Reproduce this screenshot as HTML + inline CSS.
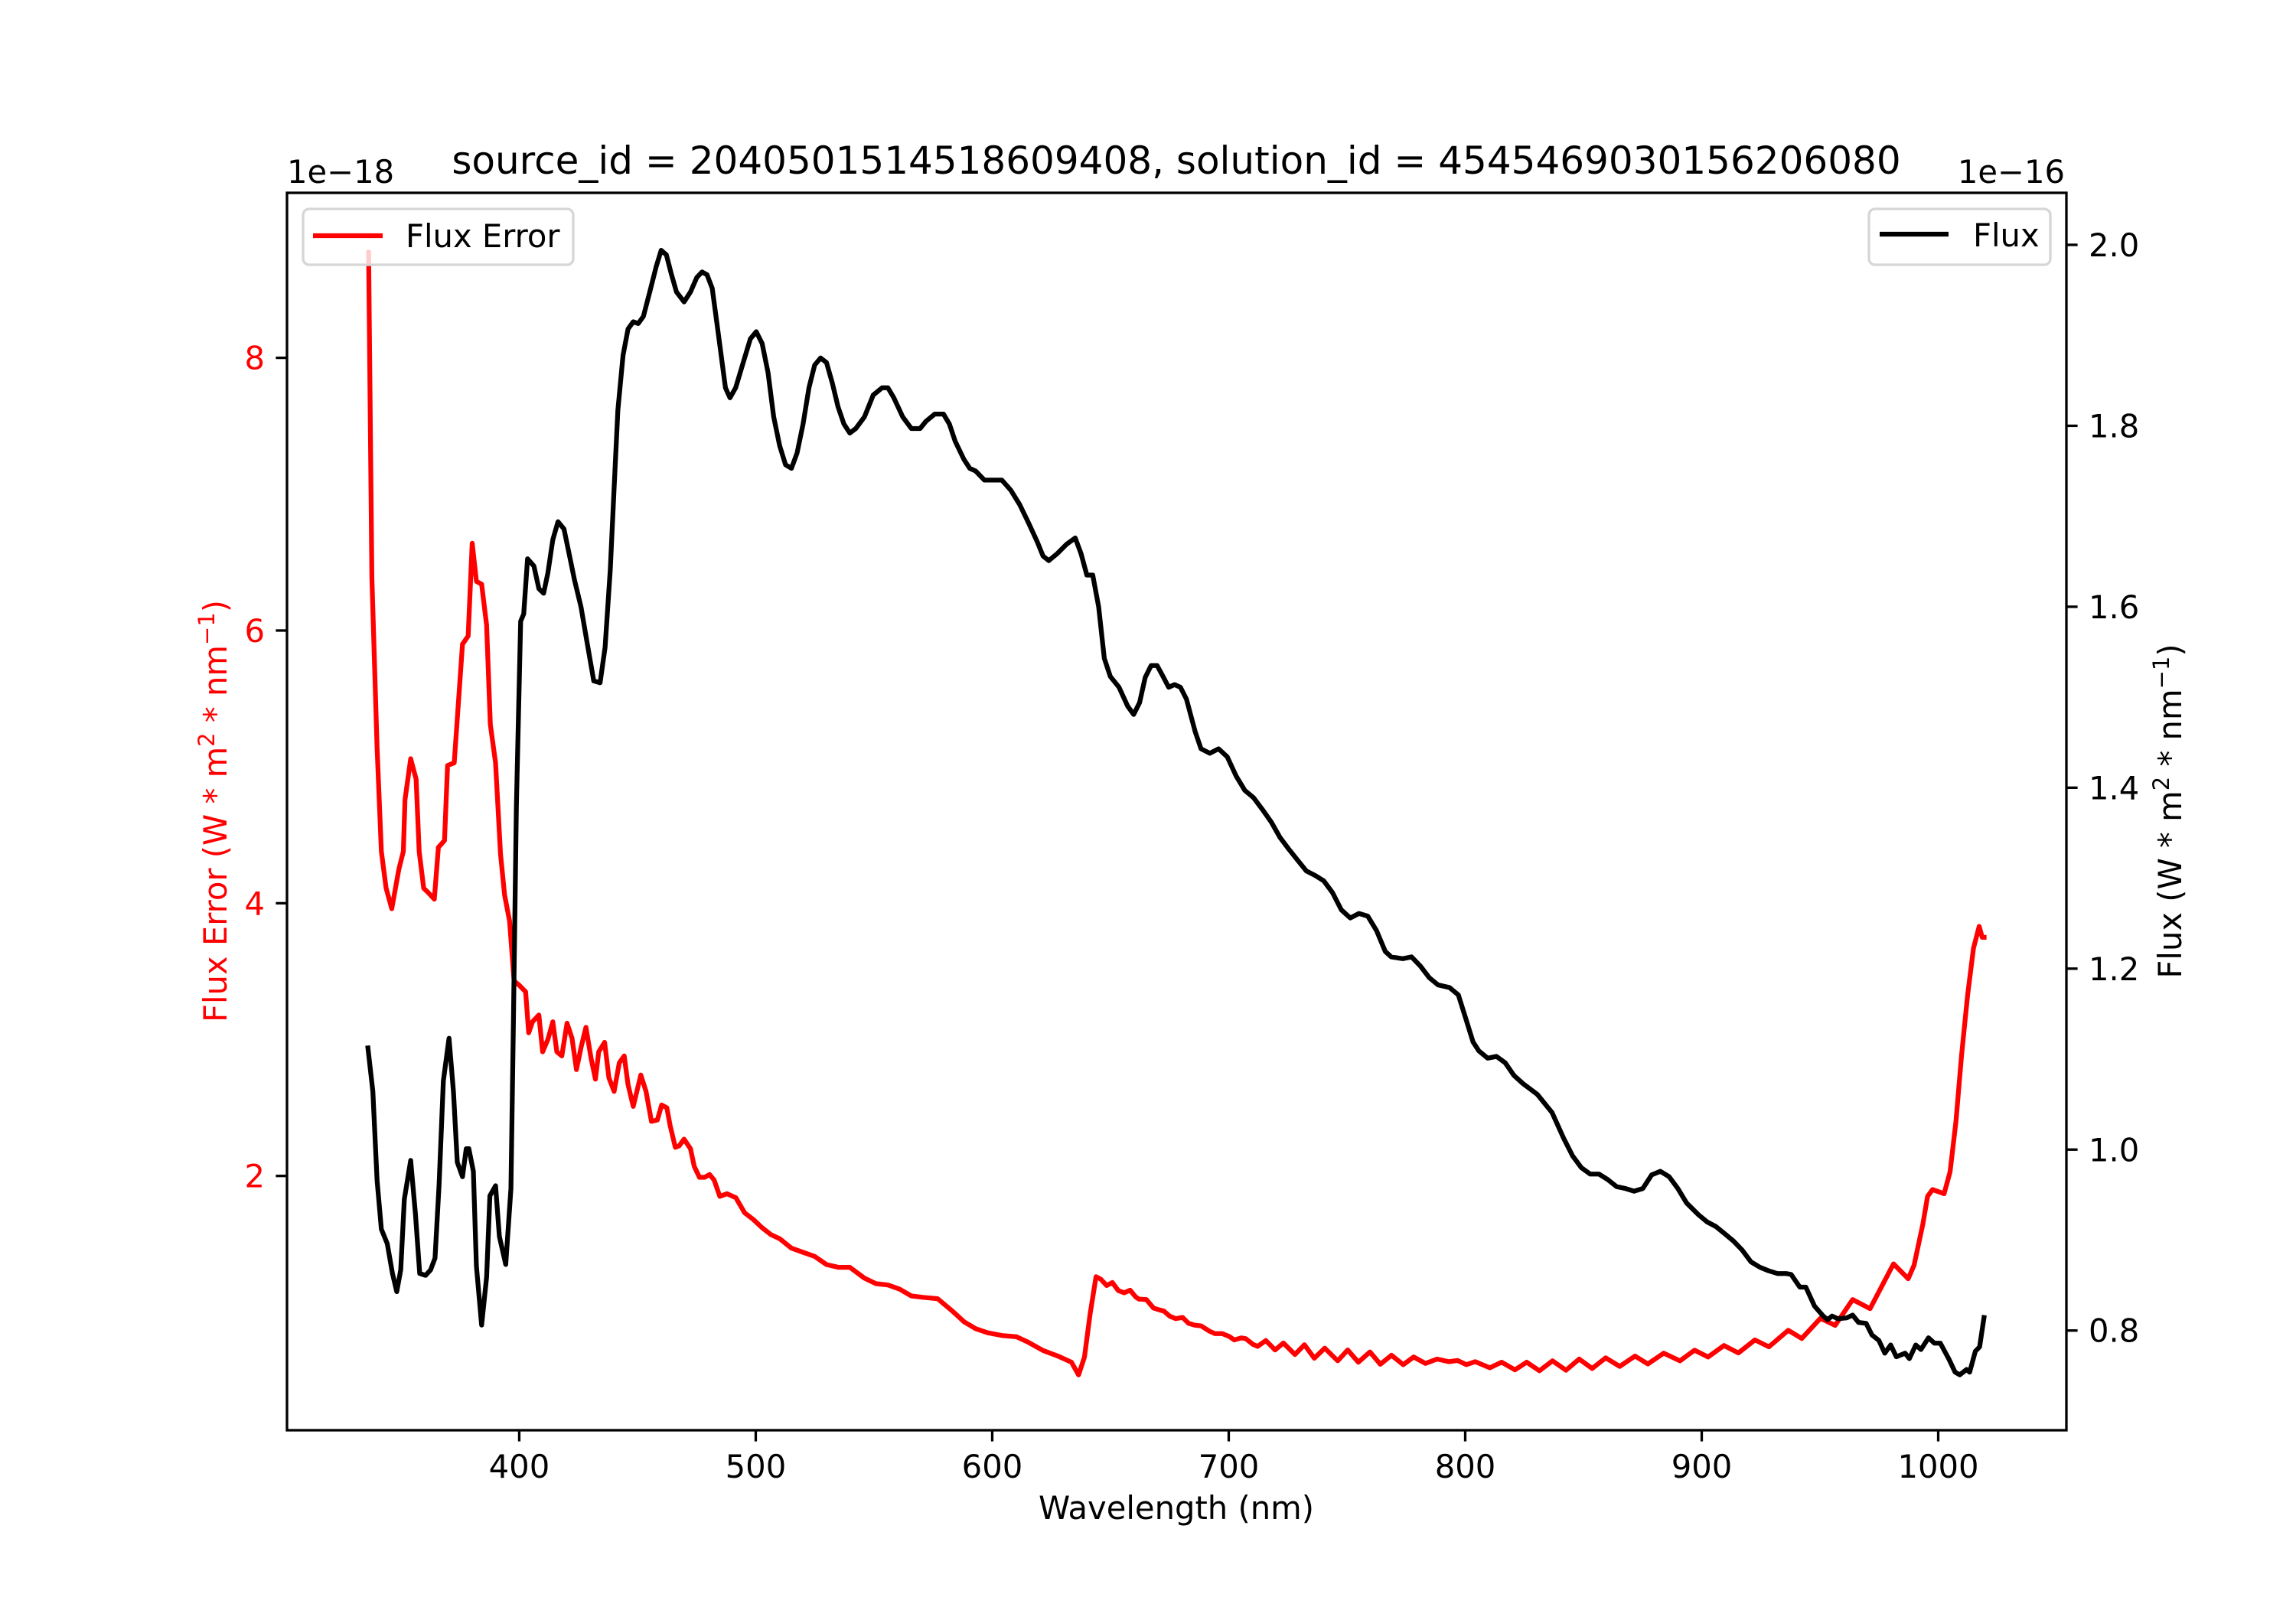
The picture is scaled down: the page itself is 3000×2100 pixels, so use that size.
<!DOCTYPE html>
<html><head><meta charset="utf-8"><style>
html,body{margin:0;padding:0;background:#fff;}
svg{display:block;font-family:"DejaVu Sans","Liberation Sans",sans-serif;}
</style></head><body>
<svg id="chart" width="3000" height="2100" viewBox="0 0 3000 2100" xmlns="http://www.w3.org/2000/svg">
<rect x="0" y="0" width="3000" height="2100" fill="#fff"/>
<g id="plot"></g>
<g id="axes"></g>
<text x="1537" y="227" font-size="50" text-anchor="middle">source_id = 2040501514518609408, solution_id = 4545469030156206080</text>
<text x="375" y="239" font-size="41.7">1e−18</text>
<text x="2698" y="239" font-size="41.7" text-anchor="end">1e−16</text>
<text x="1537" y="1985" font-size="41.7" text-anchor="middle">Wavelength (nm)</text>
<text transform="translate(296,1060) rotate(-90)" font-size="41.7" fill="#ff0000" text-anchor="middle">Flux Error (W * m<tspan font-size="29" dy="-16">2</tspan><tspan dy="16"> * nm</tspan><tspan font-size="29" dy="-16">−1</tspan><tspan dy="16">)</tspan></text>
<text transform="translate(2850,1060) rotate(-90)" font-size="41.7" fill="#000" text-anchor="middle">Flux (W * m<tspan font-size="29" dy="-16">2</tspan><tspan dy="16"> * nm</tspan><tspan font-size="29" dy="-16">−1</tspan><tspan dy="16">)</tspan></text>
<g>
<rect x="396" y="273" width="353" height="73" rx="8" fill="#fff" fill-opacity="0.8" stroke="#d6d6d6" stroke-width="3.3"/>
<line x1="409" y1="308" x2="500" y2="308" stroke="#ff0000" stroke-width="6.25"/>
<text x="530" y="323" font-size="41.7">Flux Error</text>
</g>
<g>
<rect x="2442" y="273" width="237" height="73" rx="8" fill="#fff" fill-opacity="0.8" stroke="#d6d6d6" stroke-width="3.3"/>
<line x1="2456" y1="306" x2="2546" y2="306" stroke="#000" stroke-width="6.25"/>
<text x="2578" y="322" font-size="41.7">Flux</text>
</g>
</svg>
<script>
const errWave = [336.3,337.7,339.9,341.7,343.7,346.1,349.1,351.0,351.7,354.1,356.4,357.7,359.6,361.4,364.1,365.8,368.4,369.7,372.5,376.0,378.4,380.1,381.9,384.1,386.2,387.8,390.0,392.1,393.8,395.9,397.8,399.9,402.7,404.0,405.6,408.3,409.9,412.1,414.2,415.9,418.0,420.2,422.3,424.2,426.1,428.2,430.4,432.2,433.6,436.1,437.9,440.1,442.3,444.4,446.0,448.2,451.4,453.6,455.9,458.4,460.2,462.4,463.8,466.0,467.6,469.7,472.4,474.0,476.2,478.4,480.5,482.4,484.8,487.8,491.6,495.3,499.0,502.7,506.4,510.1,515.1,520.0,524.9,529.9,534.9,539.8,546.0,550.9,555.9,560.8,565.8,570.7,576.9,583.1,588.1,593.0,598.0,604.1,610.3,615.3,621.5,627.6,633.5,636.5,639.0,641.4,643.9,645.9,648.4,650.8,653.3,655.8,658.3,660.7,662.0,665.2,668.2,670.6,672.6,675.1,677.6,680.5,683.0,685.5,688.4,691.7,694.1,697.3,700.3,702.3,705.3,707.2,710.2,712.2,715.7,719.6,723.1,728.0,732.0,736.2,740.6,746.1,750.3,754.8,759.7,764.1,768.8,773.8,778.2,783.2,788.1,793.1,796.8,800.5,804.2,810.4,815.4,821.0,826.0,831.4,836.9,842.6,848.2,853.7,859.4,865.3,871.8,877.2,883.9,890.8,897.0,902.7,909.4,915.5,922.5,928.4,936.6,942.3,950.2,956.4,963.8,971.2,981.1,987.3,989.8,993.5,995.5,997.6,1002.5,1005.0,1007.5,1009.9,1012.4,1014.9,1017.3,1018.6,1020.4];
const errVals = [8.79,6.39,5.14,4.38,4.11,3.96,4.25,4.38,4.76,5.06,4.91,4.38,4.11,4.08,4.03,4.41,4.46,5.01,5.03,5.90,5.96,6.64,6.36,6.34,6.04,5.31,5.03,4.36,4.06,3.87,3.43,3.40,3.35,3.05,3.13,3.18,2.91,3.00,3.13,2.91,2.88,3.12,3.01,2.78,2.94,3.09,2.86,2.71,2.91,2.98,2.72,2.62,2.83,2.88,2.67,2.51,2.74,2.62,2.40,2.41,2.52,2.50,2.37,2.21,2.22,2.27,2.20,2.07,1.99,1.99,2.01,1.97,1.85,1.87,1.84,1.73,1.68,1.62,1.57,1.54,1.47,1.44,1.41,1.35,1.33,1.33,1.25,1.21,1.20,1.17,1.12,1.11,1.10,1.01,0.93,0.88,0.85,0.83,0.82,0.78,0.72,0.68,0.634,0.541,0.672,0.990,1.261,1.243,1.196,1.218,1.159,1.143,1.162,1.112,1.097,1.093,1.031,1.018,1.009,0.971,0.953,0.962,0.919,0.906,0.900,0.863,0.844,0.844,0.822,0.797,0.812,0.807,0.765,0.750,0.793,0.724,0.775,0.690,0.762,0.663,0.737,0.644,0.724,0.634,0.709,0.619,0.685,0.616,0.672,0.625,0.657,0.638,0.646,0.616,0.638,0.593,0.634,0.578,0.634,0.571,0.644,0.575,0.657,0.588,0.666,0.603,0.679,0.621,0.700,0.644,0.722,0.672,0.756,0.702,0.797,0.747,0.868,0.808,0.956,0.904,1.093,1.027,1.355,1.246,1.346,1.645,1.85,1.90,1.87,2.03,2.40,2.89,3.32,3.67,3.83,3.75,3.75];
const fluxWave = [335.9,338.1,339.9,341.7,344.2,346.4,348.2,349.9,351.4,354.1,356.1,357.9,360.4,362.5,364.4,366.1,367.9,370.3,372.2,373.8,376.0,377.6,378.7,380.6,381.9,384.1,386.2,387.6,390.0,391.6,394.3,396.5,397.5,398.8,400.6,401.9,403.5,406.2,408.3,410.3,412.1,414.2,416.4,418.9,421.2,423.4,426.1,428.8,431.5,434.2,436.3,438.5,440.1,441.7,443.9,446.0,448.2,450.3,452.5,455.2,457.9,460.0,462.2,464.3,466.5,469.7,472.4,475.1,477.3,479.4,481.6,483.7,487.2,489.1,491.5,495.3,497.7,500.2,502.7,505.2,507.6,510.1,512.6,515.1,517.5,520.0,522.5,524.9,527.4,529.9,532.4,534.8,537.3,539.8,542.3,546.0,549.7,553.4,555.9,558.4,562.1,565.8,569.5,572.0,575.7,579.4,581.9,584.3,588.0,590.5,593.0,596.7,600.4,604.1,607.8,611.6,615.3,619.0,621.5,623.9,627.6,631.4,635.1,637.5,640.0,642.5,645.0,647.4,649.9,653.6,657.3,659.8,662.3,664.7,667.2,669.7,672.2,674.6,677.1,679.6,682.1,685.8,688.3,692.0,695.7,699.4,703.1,706.8,710.5,714.2,718.0,721.7,725.4,729.1,732.8,736.5,740.2,743.9,747.6,751.4,755.1,758.8,762.5,766.2,768.7,773.6,777.3,781.0,784.8,788.5,793.4,797.1,799.6,803.3,805.8,809.5,813.2,816.9,820.6,824.4,830.5,836.7,841.7,845.4,849.1,852.8,856.5,860.2,864.0,867.7,871.4,875.1,878.8,882.5,886.2,889.9,893.6,898.6,902.3,906.0,909.7,913.4,917.1,920.8,924.6,928.3,932.0,935.7,937.8,941.5,944.0,947.7,951.4,953.2,955.1,957.6,961.3,963.8,966.3,969.5,972.0,974.9,977.4,979.9,982.3,986.0,987.8,990.5,992.7,995.9,998.4,1000.9,1004.6,1007.1,1009.1,1012.0,1013.3,1015.7,1017.5,1019.5];
const fluxVals = [1.115,1.064,0.966,0.912,0.896,0.863,0.843,0.867,0.945,0.988,0.929,0.863,0.861,0.867,0.880,0.961,1.076,1.123,1.064,0.986,0.970,1.001,1.001,0.976,0.871,0.806,0.859,0.949,0.960,0.904,0.873,0.957,1.133,1.379,1.584,1.592,1.653,1.645,1.620,1.615,1.637,1.674,1.694,1.686,1.657,1.629,1.600,1.559,1.518,1.516,1.555,1.641,1.731,1.817,1.878,1.907,1.915,1.913,1.921,1.948,1.976,1.994,1.989,1.968,1.948,1.937,1.948,1.964,1.970,1.967,1.952,1.911,1.842,1.831,1.842,1.875,1.896,1.904,1.891,1.859,1.810,1.778,1.757,1.753,1.770,1.802,1.842,1.867,1.875,1.870,1.847,1.821,1.802,1.792,1.797,1.810,1.834,1.842,1.842,1.831,1.810,1.797,1.797,1.805,1.813,1.813,1.802,1.783,1.763,1.753,1.750,1.740,1.740,1.740,1.729,1.713,1.693,1.672,1.656,1.651,1.659,1.669,1.676,1.659,1.635,1.635,1.600,1.543,1.523,1.511,1.490,1.481,1.494,1.522,1.535,1.535,1.523,1.511,1.514,1.511,1.498,1.462,1.443,1.438,1.443,1.434,1.413,1.397,1.389,1.376,1.362,1.345,1.332,1.320,1.308,1.303,1.297,1.284,1.265,1.256,1.261,1.258,1.242,1.219,1.213,1.211,1.213,1.203,1.190,1.182,1.179,1.171,1.150,1.119,1.109,1.101,1.103,1.096,1.082,1.073,1.061,1.041,1.012,0.993,0.980,0.973,0.973,0.967,0.959,0.957,0.954,0.957,0.972,0.976,0.970,0.957,0.941,0.928,0.920,0.915,0.907,0.899,0.889,0.876,0.870,0.866,0.863,0.863,0.862,0.848,0.848,0.827,0.816,0.812,0.816,0.813,0.814,0.817,0.809,0.808,0.795,0.789,0.775,0.784,0.771,0.775,0.769,0.784,0.779,0.792,0.786,0.786,0.768,0.754,0.751,0.757,0.754,0.777,0.782,0.817];
const xTicks = [400,500,600,700,800,900,1000];
const errTicks = [2,4,6,8];
const fluxTicks = [0.8,1.0,1.2,1.4,1.6,1.8,2.0];
const fluxTickLabels = ["0.8","1.0","1.2","1.4","1.6","1.8","2.0"];

const L=375,R=2700,T=252,B=1869;
const xMin=301.8,xMax=1054.2, eMin=0.135,eMax=9.21, fMin=0.6898,fMax=2.0575;
function xs(v){return L+(v-xMin)/(xMax-xMin)*(R-L);}
function ye(v){return B-(v-eMin)/(eMax-eMin)*(B-T);}
function yf(v){return B-(v-fMin)/(fMax-fMin)*(B-T);}
const NS="http://www.w3.org/2000/svg";
const plot=document.getElementById('plot'), axes=document.getElementById('axes');
function mk(tag,attrs,parent){const e=document.createElementNS(NS,tag);for(const k in attrs)e.setAttribute(k,attrs[k]);parent.appendChild(e);return e;}

let d='';errWave.forEach((w,i)=>{d+=(i?'L':'M')+xs(w).toFixed(1)+','+ye(errVals[i]).toFixed(1);});
const pe=mk('path',{d:d,fill:'none',stroke:'#ff0000','stroke-width':6.25,'stroke-linejoin':'round'},plot);


d='';fluxWave.forEach((w,i)=>{d+=(i?'L':'M')+xs(w).toFixed(1)+','+yf(fluxVals[i]).toFixed(1);});
const pf=mk('path',{d:d,fill:'none',stroke:'#000','stroke-width':6.25,'stroke-linejoin':'round'},plot);



const frame=mk('rect',{x:L,y:T,width:R-L,height:B-T,fill:'none',stroke:'#000','stroke-width':3.3},axes);


xTicks.forEach(v=>{
  const x=xs(v);
  const t=mk('line',{x1:x,y1:B,x2:x,y2:B+14.6,stroke:'#000','stroke-width':3.3},axes);
  
  
  const l=mk('text',{x:x,y:B+62,'font-size':41.7,'text-anchor':'middle'},axes);l.textContent=v;
  
  
});
errTicks.forEach(v=>{
  const y=ye(v);
  const t=mk('line',{x1:L,y1:y,x2:L-14.6,y2:y,stroke:'#000','stroke-width':3.3},axes);
  
  
  const l=mk('text',{x:L-29,y:y+15,'font-size':41.7,'text-anchor':'end',fill:'#ff0000'},axes);l.textContent=v;
  
  
});
fluxTicks.forEach((v,i)=>{
  const y=yf(v);
  const t=mk('line',{x1:R,y1:y,x2:R+14.6,y2:y,stroke:'#000','stroke-width':3.3},axes);
  
  
  const l=mk('text',{x:R+29,y:y+15,'font-size':41.7},axes);l.textContent=fluxTickLabels[i];
  
  
});
</script>
</body></html>
